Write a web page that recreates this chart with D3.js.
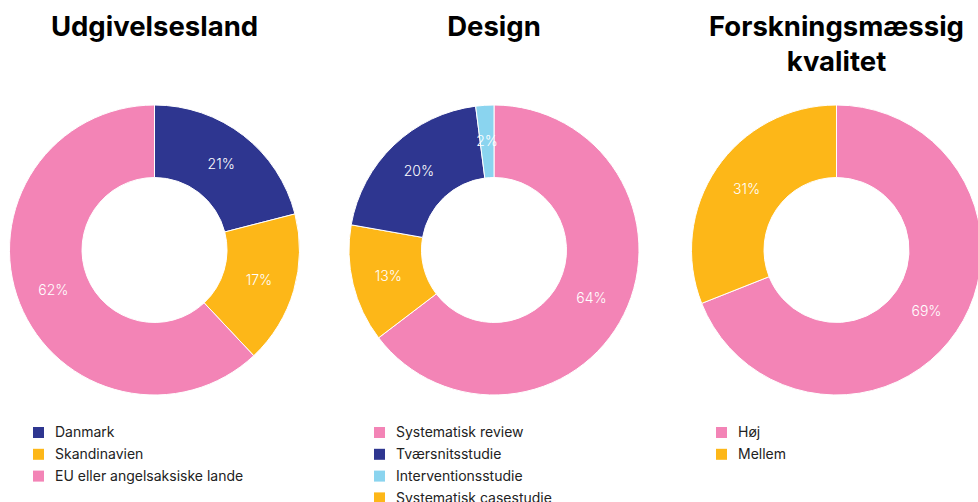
<!DOCTYPE html>
<html>
<head>
<meta charset="utf-8">
<script src="https://cdn.jsdelivr.net/npm/d3@7"></script>
<style>
  body { margin: 0; background: #fff; }
  svg { display: block; font-family: Inter, "Liberation Sans", Arial, sans-serif; }
</style>
</head>
<body>
<script>
// data ----------------------------------------------------------------
const titles = [["Udgivelsesland"], ["Design"], ["Forskningsmæssig", "kvalitet"]]

// slices, in drawing order (clockwise from 12 o'clock)
const land = ["Danmark", "Skandinavien", "EU eller angelsaksiske lande"]
const landPct = [21, 17, 62]

const design = ["Systematisk review", "Systematisk casestudie", "Tværsnitsstudie", "Interventionsstudie"]
const designPct = [64, 13, 20, 2]

const kvalitet = ["Høj", "Mellem"]
const kvalitetPct = [69, 31]

// legend order
const landLegend = ["Danmark", "Skandinavien", "EU eller angelsaksiske lande"]
const designLegend = ["Systematisk review", "Tværsnitsstudie", "Interventionsstudie", "Systematisk casestudie"]
const kvalitetLegend = ["Høj", "Mellem"]

const colors = {
    "Danmark": "#2e3690",
    "Skandinavien": "#fdb718",
    "EU eller angelsaksiske lande": "#f384b6",
    "Systematisk review": "#f384b6",
    "Systematisk casestudie": "#fdb718",
    "Tværsnitsstudie": "#2e3690",
    "Interventionsstudie": "#8ad4ef",
    "Høj": "#f384b6",
    "Mellem": "#fdb718"
}

//----------------------------------------------------------------------
const width = 978
const height = 502

const svg = d3.select("body").append("svg")
    .attr("width", width)
    .attr("height", height)

const charts = [
    { cx: 154.5, names: land, values: landPct, legend: landLegend, lx: 33 },
    { cx: 494, names: design, values: designPct, legend: designLegend, lx: 374 },
    { cx: 836.5, names: kvalitet, values: kvalitetPct, legend: kvalitetLegend, lx: 716 }
]

const outer = 145
const inner = 72.5
const cy = 250

const pie = d3.pie().sort(null).value(d => d.value)
const arc = d3.arc().innerRadius(inner).outerRadius(outer)

charts.forEach((c, i) => {
    // title
    const t = svg.append("text")
        .attr("x", c.cx)
        .attr("y", 36)
        .attr("text-anchor", "middle")
        .style("font-size", "27.5px")
        .style("font-weight", "700")
        .style("fill", "#000")
    titles[i].forEach((line, j) => {
        t.append("tspan")
            .attr("x", c.cx)
            .attr("dy", j == 0 ? 0 : 35)
            .text(line)
    })

    const rows = c.names.map((n, k) => ({ name: n, value: c.values[k] }))
    const g = svg.append("g").attr("transform", `translate(${c.cx},${cy})`)

    g.selectAll("path")
        .data(pie(rows))
        .join("path")
        .attr("d", arc)
        .attr("fill", d => colors[d.data.name])
        .attr("stroke", "#fff")
        .attr("stroke-width", 1)

    g.selectAll("text")
        .data(pie(rows))
        .join("text")
        .attr("transform", d => `translate(${arc.centroid(d)})`)
        .attr("text-anchor", "middle")
        .attr("dy", "0.35em")
        .style("font-size", "14px")
        .style("font-weight", "300")
        .style("fill", "#fff")
        .text(d => d.data.value + "%")

    // legend
    const leg = svg.append("g")
        .selectAll("g")
        .data(c.legend)
        .join("g")
        .attr("transform", (d, k) => `translate(${c.lx},${432.5 + k * 21.8})`)
    leg.append("rect")
        .attr("x", 0)
        .attr("y", -5.5)
        .attr("width", 11)
        .attr("height", 11)
        .attr("fill", d => colors[d])
    leg.append("text")
        .attr("x", 22)
        .attr("dy", "0.35em")
        .style("font-size", "14px")
        .style("fill", "#222")
        .text(d => d)
})
</script>
</body>
</html>
